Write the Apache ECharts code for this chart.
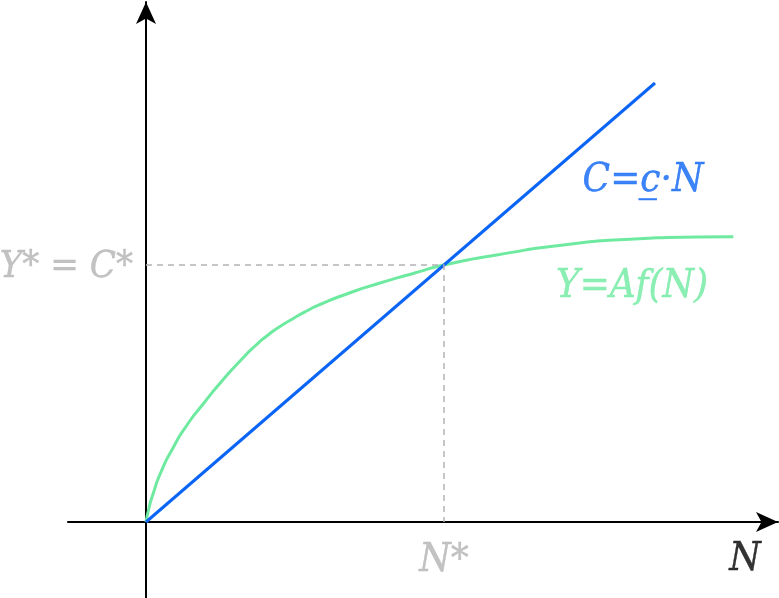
<!DOCTYPE html>
<html>
<head>
<meta charset="utf-8">
<script src="https://cdn.jsdelivr.net/npm/echarts@6/dist/echarts.min.js"></script>
<style>html,body{margin:0;padding:0;background:#fff}#c{width:779px;height:598px}</style>
</head>
<body>
<div id="c"></div>
<script>
// Production curve Y = A f(N)  (N, Y)
const prodN = [0, 0.03, 0.067, 0.15, 0.267, 0.40, 0.567, 0.76, 0.95, 1.09, 1.22, 1.34, 1.47, 1.607, 1.74, 2.007, 2.34, 2.673, 2.98, 3.507, 4.173, 4.84, 5.507, 5.873];
const prodY = [0, 0.14, 0.27, 0.50, 0.735, 0.955, 1.175, 1.41, 1.62, 1.76, 1.87, 1.955, 2.033, 2.11, 2.175, 2.28, 2.39, 2.485, 2.57, 2.67, 2.77, 2.827, 2.85, 2.853];
// Consumption line C = c·N
const consN = [0, 5.09];
const consY = [0, 4.39];
// Equilibrium
const Nstar = 2.98;
const Ystar = 2.57;
// Labels
const labelTexts = ['C=c̲·N', 'Y=Af(N)', 'Y* = C*', 'N*', 'N'];
const labelPos = [[4.97, 3.41], [4.86, 2.35], [-0.13, 2.55], [2.98, -0.39], [5.99, -0.38]];
const labelSizes = [40, 40, 38, 40, 40];

const BLUE = '#0a64f5';
const GREEN = '#6eeaa0';
const GRAY = '#b3b3b3';
const labelColors = [BLUE, GREEN, GRAY, GRAY, '#000'];
const labelAlign = ['center', 'center', 'right', 'center', 'center'];

const chart = echarts.init(document.getElementById('c'));

chart.setOption({
  animation: false,
  grid: {left: 68, right: 1, top: 2, bottom: 0},
  xAxis: {
    type: 'value', min: -0.78, max: 6.32,
    axisLine: {show: true, onZero: true, symbol: ['none', 'arrow'], symbolSize: [15, 22], lineStyle: {color: '#000', width: 2}},
    axisTick: {show: false}, axisLabel: {show: false}, splitLine: {show: false}
  },
  yAxis: {
    type: 'value', min: -0.76, max: 5.20,
    axisLine: {show: true, onZero: true, symbol: ['none', 'arrow'], symbolSize: [15, 22], lineStyle: {color: '#000', width: 2}},
    axisTick: {show: false}, axisLabel: {show: false}, splitLine: {show: false}
  },
  series: [
    {
      type: 'line', name: 'prod', smooth: 0.7, showSymbol: false,
      data: prodN.map((n, i) => [n, prodY[i]]),
      lineStyle: {color: GREEN, width: 3}, z: 3
    },
    {
      type: 'line', name: 'cons', showSymbol: false,
      data: consN.map((n, i) => [n, consY[i]]),
      lineStyle: {color: BLUE, width: 3}, z: 4
    },
    {
      type: 'line', name: 'eq', showSymbol: false,
      data: [[0, Ystar], [Nstar, Ystar], [Nstar, 0]],
      lineStyle: {color: GRAY, width: 1.5, type: [6, 5]}, z: 5
    },
    {
      type: 'scatter', symbolSize: 0, z: 6, silent: true,
      data: labelPos.map((p, i) => ({
        value: p,
        label: {
          show: true, position: 'inside', formatter: labelTexts[i],
          color: labelColors[i], align: labelAlign[i], verticalAlign: 'middle',
          textBorderColor: labelColors[i], textBorderWidth: 0.4,
          fontFamily: '"DejaVu Serif Condensed", "DejaVu Serif", serif',
          fontStyle: 'italic', fontSize: labelSizes[i]
        }
      }))
    }
  ]
});
</script>
</body>
</html>
